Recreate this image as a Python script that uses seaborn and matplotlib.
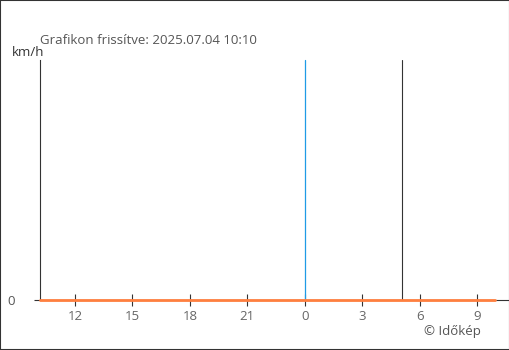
import matplotlib
matplotlib.use("Agg")
import matplotlib.pyplot as plt
import seaborn as sns
import pandas as pd
from matplotlib.patches import Rectangle

# data: hours since previous day's 00:00
hours = [10.17, 11, 12, 13, 14, 15, 16, 17, 18, 19, 20, 21, 22, 23, 24,
         25, 26, 27, 28, 29, 30, 31, 32, 33, 33.95]
wind = [0, 0, 0, 0, 0, 0, 0, 0, 0, 0, 0, 0, 0, 0, 0,
        0, 0, 0, 0, 0, 0, 0, 0, 0, 0]
tick_pos = [12, 15, 18, 21, 24, 27, 30, 33]
tick_labels = ["12", "15", "18", "21", "0", "3", "6", "9"]
midnight = 24
now_mark = 29.07
title = "Grafikon frissítve: 2025.07.04 10:10"
unit = "km/h"
credit = "© Időkép"

sns.set_theme(style="white")
plt.rcParams["font.family"] = ["Open Sans", "DejaVu Sans"]

df = pd.DataFrame({"t": hours, "v": wind})

fig = plt.figure(figsize=(5.1, 3.5), dpi=100)
ax = fig.add_axes([40 / 510, 1 - 300 / 350, 468 / 510, 240 / 350])
ax.axvline(midnight, color="#1f9be6", linewidth=0.9, zorder=2)
ax.axvline(now_mark, color="#333333", linewidth=0.8, zorder=2)
sns.lineplot(data=df, x="t", y="v", ax=ax, color="#ff7f3f", linewidth=2, zorder=5)
for ln in ax.get_lines():
    ln.set_clip_on(False)

ax.set_xlim(10.171, 34.62)
ax.set_ylim(0, 1)

for s in ["top", "right"]:
    ax.spines[s].set_visible(False)
ax.spines["left"].set_color("#333333")
ax.spines["left"].set_linewidth(0.8)
ax.spines["bottom"].set_color("#333333")
ax.spines["bottom"].set_linewidth(0.8)
ax.spines["bottom"].set_zorder(1)

ax.set_xticks(tick_pos)
ax.set_xticklabels(tick_labels)
ax.set_yticks([0])
ax.set_yticklabels(["0"])
ax.tick_params(axis="x", direction="inout", length=8.6, width=0.8, color="#333333",
               labelsize=9.5, labelcolor="#666666", pad=3)
ax.tick_params(axis="y", direction="out", length=4.3, width=0.8, color="#333333",
               labelsize=9.5, labelcolor="#555555", pad=14)
ax.tick_params(axis="both", bottom=True, left=True)
ax.set_xlabel("")
ax.set_ylabel("")

fig.text(40 / 510, 1 - 41 / 350, title, fontsize=9.5, color="#555555", va="center", ha="left")
fig.text(12 / 510, 1 - 52 / 350, unit, fontsize=9.5, color="#333333", va="center", ha="left")
fig.text(481 / 510, 1 - 332 / 350, credit, fontsize=9.5, color="#555555", va="center", ha="right")

fig.patches.append(Rectangle((0, 0), 1, 1, transform=fig.transFigure, fill=False,
                             edgecolor="#333333", linewidth=1.5, zorder=10))

fig.savefig("out.png", dpi=100)
